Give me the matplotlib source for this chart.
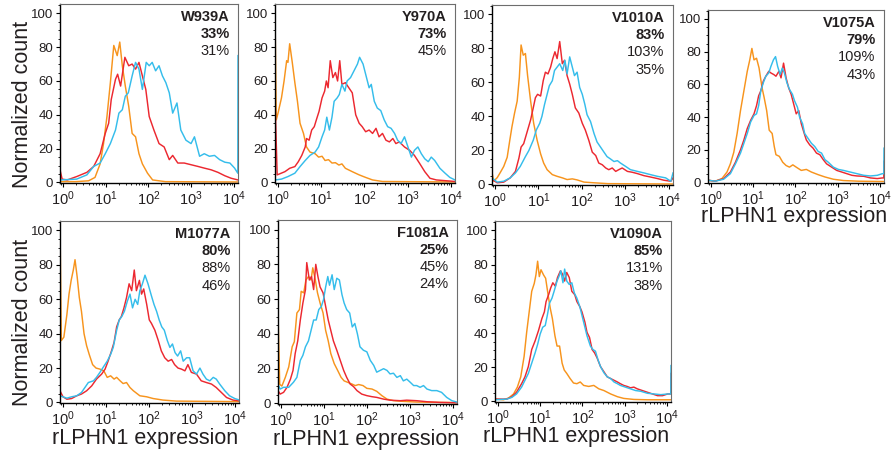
import matplotlib
matplotlib.use("Agg")
import matplotlib.pyplot as plt
from matplotlib.ticker import MultipleLocator, LogLocator, NullFormatter
import numpy as np

plt.rcParams['font.family'] = ['Liberation Sans', 'DejaVu Sans']
plt.rcParams['mathtext.fontset'] = 'custom'
plt.rcParams['mathtext.rm'] = 'Liberation Sans'
plt.rcParams['mathtext.it'] = 'Liberation Sans:italic'
plt.rcParams['mathtext.bf'] = 'Liberation Sans:bold'

# (log10 expression, normalized count)

W939A_ORANGE = [(-0.07, 0.5), (0.3, 0.5), (0.6, 1), (0.75, 3), (0.87, 11), (0.95, 23), (1.03, 39),
                (1.11, 59), (1.19, 81), (1.27, 75), (1.33, 83), (1.39, 69), (1.46, 57), (1.54, 45),
                (1.62, 29), (1.7, 27), (1.78, 17), (1.86, 11), (1.98, 5.5), (2.1, 1.5), (2.4, 0.5),
                (4.1, 0.3)]
W939A_RED = [(-0.07, 7.5), (-0.02, 2), (0.1, 1.5), (0.32, 3.5), (0.56, 6), (0.72, 9.5), (0.87, 17),
             (0.99, 29), (1.07, 35), (1.13, 49), (1.23, 61), (1.28, 64), (1.35, 57), (1.45, 74),
             (1.54, 69), (1.62, 70), (1.7, 67), (1.78, 71), (1.86, 63), (1.94, 55), (2.02, 39),
             (2.13, 31), (2.25, 23), (2.37, 21), (2.49, 13.5), (2.57, 16), (2.69, 11.5), (2.84, 11.5),
             (3.0, 10.5), (3.16, 9.5), (3.31, 8.5), (3.47, 7.5), (3.63, 6), (3.79, 4), (3.94, 2.5),
             (4.1, 1.5)]
W939A_BLUE = [(-0.07, 1.5), (0.32, 2), (0.56, 4.5), (0.72, 9.5), (0.87, 11.5), (0.99, 17), (1.11, 23),
              (1.23, 31), (1.31, 41), (1.39, 43), (1.46, 51), (1.53, 53), (1.62, 63), (1.7, 71),
              (1.78, 67), (1.86, 55), (1.95, 71), (2.02, 69), (2.09, 71), (2.17, 66), (2.25, 69),
              (2.33, 63), (2.41, 59), (2.49, 53), (2.57, 41), (2.67, 47), (2.76, 31), (2.88, 25),
              (3.0, 23), (3.08, 27), (3.2, 15.5), (3.31, 17), (3.43, 15.5), (3.55, 16), (3.67, 13.5),
              (3.79, 12), (3.91, 11.5), (4.02, 8.5), (4.095, 5.5), (4.1, 75)]

Y970A_ORANGE = [(-0.07, 100), (-0.04, 37), (0, 41), (0.08, 50), (0.14, 60), (0.2, 72), (0.23, 71),
                (0.27, 82), (0.33, 71), (0.39, 59), (0.45, 48), (0.51, 35), (0.59, 29), (0.66, 21),
                (0.74, 18), (0.86, 17), (0.94, 15), (1.02, 15.5), (1.09, 13), (1.17, 13.5), (1.25, 11.5),
                (1.33, 11.7), (1.41, 10.3), (1.48, 11), (1.56, 8.4), (1.72, 6.4), (1.88, 4.5), (2.03, 3),
                (2.19, 1.5), (2.42, 0.6), (4.1, 0.3)]
Y970A_RED = [(-0.07, 50), (-0.02, 4.5), (0.16, 6.4), (0.27, 8.4), (0.39, 9.4), (0.47, 12.3), (0.55, 16),
             (0.63, 21), (0.66, 26), (0.72, 25), (0.78, 31), (0.84, 33), (0.9, 38), (0.95, 42),
             (1.02, 50), (1.08, 54), (1.12, 60), (1.16, 56), (1.21, 72), (1.27, 62), (1.33, 65),
             (1.38, 60), (1.43, 72), (1.48, 58), (1.56, 59), (1.64, 56), (1.72, 53), (1.8, 40),
             (1.88, 35), (1.95, 33), (2.03, 30), (2.11, 31), (2.19, 29), (2.27, 32), (2.34, 27),
             (2.42, 29), (2.5, 25), (2.58, 24), (2.66, 26), (2.73, 23), (2.81, 24), (2.93, 21),
             (3.05, 19), (3.16, 16), (3.28, 11.3), (3.4, 6.4), (3.52, 2.5), (3.67, 1.5), (3.91, 1),
             (4.1, 0.6)]
Y970A_BLUE = [(-0.07, 1.5), (0.08, 2), (0.23, 3.5), (0.39, 5.5), (0.51, 9.4), (0.63, 13), (0.74, 16),
              (0.86, 18), (0.94, 21), (1.02, 27), (1.08, 31), (1.13, 38.6), (1.19, 31), (1.25, 38.6),
              (1.3, 48), (1.37, 50), (1.42, 52), (1.48, 58), (1.55, 54), (1.6, 60), (1.68, 62),
              (1.76, 66), (1.84, 70), (1.89, 74), (1.97, 70), (2.03, 64), (2.11, 56), (2.16, 58),
              (2.23, 48), (2.3, 44), (2.38, 42.5), (2.46, 37), (2.54, 33), (2.62, 32), (2.7, 29),
              (2.77, 25), (2.85, 23), (2.93, 27), (3.01, 21), (3.09, 15), (3.16, 19), (3.24, 21),
              (3.32, 17), (3.4, 14), (3.48, 12.3), (3.55, 15), (3.63, 13), (3.75, 8.4), (3.87, 5.5),
              (3.98, 3), (4.1, 1.5)]

V1010A_ORANGE = [(-0.07, 7), (-0.03, 2), (0.05, 4), (0.12, 7), (0.2, 10.6), (0.28, 16), (0.34, 26),
                 (0.39, 34), (0.45, 42), (0.51, 49), (0.56, 63), (0.6, 82), (0.65, 76), (0.7, 77),
                 (0.75, 64), (0.82, 49), (0.89, 36), (0.97, 26), (1.05, 18), (1.12, 12.6), (1.2, 8.7),
                 (1.32, 5.8), (1.43, 4.8), (1.55, 3.9), (1.66, 2.9), (1.78, 3.3), (1.89, 2.7),
                 (2.05, 1.4), (2.28, 1), (2.6, 0.5), (4.1, 0.3)]
V1010A_RED = [(-0.07, 2.9), (0.05, 1), (0.2, 1.4), (0.35, 3.9), (0.47, 7.7), (0.55, 15.5), (0.6, 22),
              (0.66, 24), (0.74, 31), (0.82, 38), (0.88, 45), (0.93, 51), (0.98, 53), (1.05, 52),
              (1.11, 61), (1.16, 66), (1.22, 65), (1.28, 69), (1.33, 74), (1.38, 78), (1.43, 74),
              (1.49, 84), (1.55, 71), (1.6, 73), (1.66, 64), (1.72, 59), (1.78, 53), (1.85, 45),
              (1.93, 42), (2.01, 36), (2.08, 32), (2.16, 26), (2.24, 19), (2.32, 17), (2.39, 12.6),
              (2.47, 11.6), (2.55, 9.7), (2.62, 8.7), (2.7, 9.7), (2.78, 7.7), (2.85, 8.7), (2.93, 9.7),
              (3.05, 7.7), (3.16, 7.2), (3.28, 6.4), (3.43, 5.2), (3.58, 4.4), (3.74, 3.5), (3.89, 2.5),
              (4.05, 1.9), (4.1, 3.9)]
V1010A_BLUE = [(-0.07, 3.9), (0.05, 1.4), (0.2, 1.9), (0.35, 3.9), (0.47, 6.8), (0.58, 10.6), (0.7, 16.4),
               (0.78, 20), (0.88, 26), (0.95, 32), (1.03, 36), (1.08, 40), (1.14, 47), (1.2, 53),
               (1.25, 58), (1.32, 61), (1.37, 67), (1.43, 69), (1.49, 71), (1.56, 67), (1.61, 73),
               (1.66, 65), (1.72, 75), (1.78, 69), (1.83, 64), (1.89, 66), (1.95, 57), (2.01, 53),
               (2.07, 47), (2.12, 41), (2.2, 37), (2.28, 30), (2.35, 25), (2.43, 22), (2.51, 19),
               (2.58, 16.4), (2.66, 15), (2.74, 13.5), (2.82, 14), (2.89, 12.6), (3.01, 10.6),
               (3.12, 8.7), (3.28, 7.7), (3.43, 6.8), (3.58, 5.8), (3.74, 4.8), (3.93, 3.9), (4.05, 1.9),
               (4.1, 6.8)]

V1075A_ORANGE = [(-0.07, 1.4), (0.1, 0.8), (0.26, 2.4), (0.38, 6.4), (0.46, 11.4), (0.54, 18.4), (0.62, 30),
                 (0.7, 44), (0.78, 56), (0.86, 68), (0.92, 75), (0.97, 82), (1.02, 75), (1.08, 76),
                 (1.14, 70), (1.21, 58), (1.26, 52), (1.32, 44), (1.38, 32), (1.45, 30), (1.5, 22),
                 (1.54, 17), (1.62, 16), (1.7, 12.4), (1.78, 10.4), (1.86, 9.4), (1.94, 10.8), (2.02, 9.4),
                 (2.14, 7.4), (2.26, 8), (2.38, 6.4), (2.54, 4.8), (2.7, 3.4), (2.9, 2), (3.14, 1.2),
                 (3.5, 0.8), (4.1, 0.6)]
V1075A_RED = [(-0.07, 1.4), (0.1, 0.8), (0.3, 2.4), (0.46, 6.4), (0.58, 12.4), (0.7, 20), (0.78, 26),
              (0.86, 33), (0.94, 38), (1.02, 42), (1.08, 47), (1.13, 53), (1.18, 56), (1.24, 62),
              (1.3, 65), (1.37, 68), (1.42, 67), (1.49, 66), (1.54, 65), (1.61, 68), (1.66, 64),
              (1.72, 73), (1.78, 64), (1.84, 58), (1.9, 54), (1.96, 48), (2.02, 42), (2.08, 44),
              (2.14, 36), (2.21, 30), (2.26, 26), (2.34, 23), (2.42, 21), (2.5, 18), (2.58, 17),
              (2.66, 14), (2.74, 11.4), (2.86, 9.4), (2.98, 7.4), (3.1, 6.4), (3.22, 5.4), (3.34, 4.4),
              (3.46, 4), (3.62, 3.8), (3.78, 2.8), (3.94, 2.4), (4.06, 2.8), (4.095, 2.8), (4.1, 13)]
V1075A_BLUE = [(-0.07, 1.4), (0.1, 0.8), (0.3, 2), (0.46, 5.4), (0.58, 11.4), (0.7, 18), (0.78, 24),
               (0.86, 30), (0.94, 37), (1.02, 41), (1.08, 42), (1.13, 47), (1.18, 56), (1.24, 61),
               (1.3, 65), (1.37, 67), (1.42, 71), (1.48, 75), (1.53, 77), (1.58, 71), (1.64, 66),
               (1.69, 70), (1.74, 67), (1.8, 61), (1.86, 57), (1.93, 54), (1.98, 50), (2.05, 46),
               (2.1, 40), (2.17, 36), (2.22, 30), (2.3, 27), (2.38, 24), (2.46, 22), (2.54, 19),
               (2.62, 18), (2.7, 14), (2.78, 12.4), (2.9, 9.4), (3.02, 8), (3.14, 7.4), (3.3, 6.4),
               (3.46, 5.4), (3.62, 4.4), (3.78, 4), (3.94, 4.4), (4.06, 5.4), (4.095, 5.4), (4.1, 21)]

M1077A_ORANGE = [(-0.07, 104), (-0.04, 36), (0.02, 38), (0.09, 51), (0.14, 63), (0.19, 71), (0.24, 77),
                 (0.28, 83), (0.33, 73), (0.38, 61), (0.43, 53), (0.49, 40), (0.55, 33), (0.61, 28),
                 (0.69, 22), (0.77, 20), (0.86, 19.4), (0.95, 18.4), (1.03, 14.6), (1.11, 15.5),
                 (1.19, 13.6), (1.25, 14.6), (1.33, 12.6), (1.4, 11), (1.48, 11.6), (1.56, 8.7),
                 (1.64, 6.8), (1.79, 3.9), (1.95, 3.3), (2.1, 2.3), (2.33, 1.4), (2.64, 0.8), (4.1, 0.5)]
M1077A_RED = [(-0.07, 6.8), (0.0, 3.3), (0.09, 1.9), (0.2, 2.3), (0.32, 3.9), (0.43, 4.9), (0.55, 6.8),
              (0.67, 9.7), (0.78, 13.6), (0.9, 16.5), (0.98, 19.4), (1.05, 24), (1.13, 30), (1.19, 35),
              (1.25, 44), (1.31, 48), (1.36, 50), (1.42, 55), (1.48, 61), (1.54, 69), (1.6, 65),
              (1.66, 77), (1.71, 65), (1.78, 71), (1.83, 63), (1.88, 66), (1.95, 57), (2.01, 48),
              (2.06, 46), (2.14, 42), (2.22, 36), (2.29, 30), (2.37, 26), (2.45, 24), (2.53, 25),
              (2.6, 22), (2.68, 20), (2.76, 19.4), (2.84, 18.4), (2.91, 22), (2.99, 17.5), (3.11, 16.5),
              (3.22, 12.6), (3.34, 11.6), (3.46, 10.7), (3.57, 8.7), (3.69, 5.8), (3.81, 2.9),
              (3.96, 1.4), (4.1, 1)]
M1077A_BLUE = [(-0.07, 3.9), (0.09, 2.5), (0.2, 3.3), (0.32, 3.9), (0.43, 5.8), (0.51, 8.7), (0.59, 11.6),
               (0.71, 12.6), (0.78, 14.6), (0.86, 17.5), (0.95, 21), (1.03, 24), (1.11, 28), (1.17, 32),
               (1.25, 42), (1.31, 48), (1.37, 50), (1.43, 53), (1.5, 59), (1.56, 63), (1.62, 55),
               (1.68, 60), (1.74, 57), (1.79, 65), (1.85, 69), (1.91, 74), (1.98, 69), (2.06, 62),
               (2.12, 57), (2.18, 53), (2.24, 48), (2.3, 44), (2.36, 42), (2.43, 36), (2.49, 32),
               (2.55, 34), (2.61, 29), (2.67, 27), (2.74, 30), (2.8, 24), (2.88, 26), (2.95, 26),
               (3.03, 18.4), (3.11, 16.5), (3.19, 20), (3.26, 16.5), (3.34, 13.6), (3.42, 12.6),
               (3.5, 14.6), (3.57, 13.6), (3.65, 10.7), (3.77, 6.8), (3.88, 3.9), (4.0, 2.3), (4.1, 1.5)]

F1081A_ORANGE = [(-0.07, 52), (-0.03, 11), (0.02, 10), (0.1, 15), (0.18, 21), (0.26, 32.6), (0.31, 35.5),
                 (0.37, 52), (0.43, 54), (0.47, 64.5), (0.53, 63.6), (0.58, 71), (0.64, 73), (0.7, 71),
                 (0.74, 78), (0.8, 71), (0.85, 63.6), (0.91, 57.8), (0.98, 52), (1.04, 42), (1.1, 36),
                 (1.16, 28.7), (1.24, 22.9), (1.32, 19), (1.4, 15), (1.47, 13), (1.55, 12.2), (1.65, 11.2),
                 (1.73, 10.3), (1.81, 10.9), (1.91, 10.3), (2.0, 8.7), (2.12, 8.3), (2.23, 7), (2.35, 4.5),
                 (2.47, 2.5), (2.62, 1.6), (2.85, 1.2), (3.16, 0.8), (4.1, 0.5)]
F1081A_RED = [(-0.07, 7.4), (-0.02, 5.4), (0.06, 6.4), (0.14, 9.3), (0.22, 14), (0.28, 19), (0.33, 28.7),
              (0.39, 36), (0.45, 48), (0.51, 57.8), (0.57, 65.5), (0.6, 81), (0.66, 71), (0.71, 73),
              (0.76, 65.5), (0.81, 80), (0.86, 73), (0.91, 67), (0.98, 63.6), (1.04, 55.8), (1.1, 48),
              (1.16, 42), (1.22, 36), (1.3, 30.6), (1.38, 24.8), (1.46, 19), (1.53, 15), (1.61, 11.2),
              (1.69, 9.7), (1.77, 7.4), (1.88, 5.4), (2.0, 4.5), (2.12, 3.9), (2.23, 3.5), (2.39, 2.5),
              (2.54, 1.9), (2.78, 1.6), (2.93, 1.9), (3.16, 1.6), (3.4, 1), (3.71, 0.6), (4.1, 0.4)]
F1081A_BLUE = [(-0.07, 11), (-0.02, 8.3), (0.06, 9.3), (0.18, 9.3), (0.29, 12.2), (0.37, 15), (0.45, 24.8),
               (0.51, 27.7), (0.57, 32.6), (0.64, 36), (0.7, 42), (0.76, 48), (0.82, 48), (0.88, 54),
               (0.94, 55.8), (0.99, 59.7), (1.04, 67), (1.09, 73), (1.13, 68), (1.19, 74), (1.24, 65.5),
               (1.3, 72), (1.36, 71), (1.42, 62.6), (1.47, 57.8), (1.53, 54), (1.6, 52), (1.66, 44),
               (1.72, 46), (1.78, 40), (1.84, 32.6), (1.92, 30.6), (2.0, 29.7), (2.08, 24.8), (2.16, 21.9),
               (2.23, 18), (2.31, 19), (2.39, 20), (2.47, 19), (2.54, 17), (2.62, 17.4), (2.7, 15),
               (2.78, 16), (2.85, 13), (2.93, 14), (3.01, 12.2), (3.09, 10.3), (3.16, 10.3), (3.24, 9.3),
               (3.32, 10.3), (3.4, 8.3), (3.51, 7.4), (3.63, 7.4), (3.74, 6.4), (3.86, 3.5), (3.98, 1.6),
               (4.1, 0.8)]

V1090A_ORANGE = [(-0.07, 1.4), (0.13, 1), (0.25, 2), (0.37, 4.4), (0.46, 8.4), (0.54, 14.4), (0.62, 26.4),
                 (0.68, 40.4), (0.75, 54.4), (0.8, 64.4), (0.86, 69), (0.9, 74), (0.94, 82), (0.98, 73),
                 (1.02, 77), (1.08, 74), (1.13, 72), (1.19, 62), (1.24, 54.4), (1.29, 48.4), (1.35, 38.4),
                 (1.4, 32.4), (1.46, 32.4), (1.52, 22.4), (1.57, 18.4), (1.63, 16.4), (1.71, 13.4),
                 (1.79, 10.8), (1.87, 10.4), (1.95, 11.4), (2.03, 9.4), (2.15, 8.8), (2.27, 9.4),
                 (2.39, 7.4), (2.51, 6.4), (2.67, 4.4), (2.83, 2.8), (2.98, 1.8), (3.22, 1.2), (3.54, 1),
                 (4.1, 1)]
V1090A_RED = [(-0.07, 1.4), (0.21, 1.4), (0.33, 2.8), (0.44, 5.4), (0.56, 10.4), (0.64, 14.4), (0.72, 20.4),
              (0.8, 30.4), (0.88, 35.4), (0.96, 41.4), (1.04, 48.4), (1.1, 52.4), (1.14, 58.4),
              (1.2, 62.4), (1.25, 66.4), (1.3, 69.4), (1.36, 67.4), (1.41, 72.4), (1.48, 76.4),
              (1.53, 74.4), (1.58, 70.4), (1.63, 75.4), (1.69, 72.4), (1.75, 64.4), (1.82, 62.4),
              (1.87, 58.4), (1.94, 55.4), (1.99, 52.4), (2.06, 46.4), (2.11, 40.4), (2.17, 37.4),
              (2.23, 30.4), (2.29, 28.4), (2.35, 25.4), (2.43, 20.4), (2.51, 17.4), (2.59, 14.4),
              (2.67, 13.4), (2.75, 12.4), (2.83, 11.4), (2.9, 10.4), (2.98, 9.4), (3.06, 8.8), (3.14, 8),
              (3.22, 8.4), (3.3, 7.4), (3.42, 6.4), (3.54, 5.4), (3.66, 4.4), (3.78, 3.4), (3.9, 3.4),
              (4.02, 4.4), (4.095, 4.4), (4.1, 16.4)]
V1090A_BLUE = [(-0.07, 1), (0.21, 1.4), (0.33, 2.4), (0.44, 4.4), (0.56, 8.4), (0.64, 12.4), (0.72, 16.4),
               (0.8, 22.4), (0.88, 28.4), (0.94, 33.4), (1.0, 39.4), (1.06, 43.4), (1.12, 44.4),
               (1.17, 50.4), (1.22, 57.4), (1.28, 60.4), (1.33, 64.4), (1.4, 70.4), (1.45, 73.4),
               (1.49, 76.4), (1.54, 69.4), (1.58, 77.4), (1.63, 70.4), (1.69, 68.4), (1.75, 69.4),
               (1.81, 63.4), (1.87, 60.4), (1.94, 55.4), (1.99, 50.4), (2.05, 44.4), (2.11, 38.4),
               (2.19, 32.4), (2.25, 30.4), (2.31, 29.4), (2.37, 24.4), (2.43, 20.4), (2.51, 16.8),
               (2.59, 14.4), (2.67, 13.4), (2.75, 11.4), (2.83, 10.4), (2.9, 9.4), (3.02, 8.4),
               (3.14, 7.4), (3.26, 6.4), (3.38, 6), (3.54, 4.8), (3.7, 4.4), (3.86, 4), (4.02, 4.4),
               (4.095, 4.4), (4.1, 21)]

names = ["W939A", "Y970A", "V1010A", "V1075A", "M1077A", "F1081A", "V1090A"]
pct_bold = ["33%", "73%", "83%", "79%", "80%", "25%", "85%"]
pct_rest = [["31%"], ["45%"], ["103%", "35%"], ["109%", "43%"],
            ["88%", "46%"], ["45%", "24%"], ["131%", "38%"]]

curves = [
    (W939A_ORANGE, W939A_RED, W939A_BLUE),
    (Y970A_ORANGE, Y970A_RED, Y970A_BLUE),
    (V1010A_ORANGE, V1010A_RED, V1010A_BLUE),
    (V1075A_ORANGE, V1075A_RED, V1075A_BLUE),
    (M1077A_ORANGE, M1077A_RED, M1077A_BLUE),
    (F1081A_ORANGE, F1081A_RED, F1081A_BLUE),
    (V1090A_ORANGE, V1090A_RED, V1090A_BLUE),
]
colors = ["#F7941D", "#EC2830", "#35BDEB"]

W, H = 892, 450
# axes boxes in pixels: left, top, right, bottom
boxes = [(60, 4, 238, 183), (275, 4, 455, 183), (492, 5, 673, 185), (708, 10, 884, 183),
         (60, 221, 239, 403), (278, 220, 457, 404), (495, 221, 671, 402)]
xlabel_x = {3: 0.49, 4: 0.475, 5: 0.49, 6: 0.46}

fig = plt.figure(figsize=(W / 100, H / 100), dpi=100)

for i, name in enumerate(names):
    l, t, r, b = boxes[i]
    ax = fig.add_axes([l / W, 1 - b / H, (r - l) / W, (b - t) / H])

    for curve, col in zip(curves[i], colors):
        arr = np.array(curve)
        ax.plot(10 ** arr[:, 0], arr[:, 1], color=col, lw=1.05)

    ax.set_xscale('log')
    ax.set_xlim(10 ** -0.07, 10 ** 4.1)
    ax.set_ylim(-0.3, 105.5)
    ax.set_xticks([1, 10, 100, 1000, 10000])
    ax.xaxis.set_minor_locator(LogLocator(base=10, subs=np.arange(2, 10), numticks=20))
    ax.xaxis.set_minor_formatter(NullFormatter())
    ax.set_yticks([0, 20, 40, 60, 80, 100])
    ax.yaxis.set_minor_locator(MultipleLocator(5))

    for side in ['left', 'bottom']:
        ax.spines[side].set_linewidth(1.0)
        ax.spines[side].set_color('black')
    for side in ['top', 'right']:
        ax.spines[side].set_linewidth(0.8)
        ax.spines[side].set_color('#6d6d6d')

    ax.tick_params(which='major', direction='out', length=3, width=0.8,
                   colors='black', labelcolor='#231f20')
    ax.tick_params(which='minor', direction='out', length=1.6, width=0.6)
    ax.tick_params(axis='x', pad=1.5, labelsize=10.5)
    ax.tick_params(axis='y', pad=2, labelsize=9.5)

    # sample name and percentages, top right
    lines = [(name, 'bold'), (pct_bold[i], 'bold')] + [(p, 'normal') for p in pct_rest[i]]
    for j, (s, w) in enumerate(lines):
        ax.annotate(s, xy=(1, 1), xycoords='axes fraction',
                    xytext=(-6, -4.5 - 12.3 * j), textcoords='offset points',
                    ha='right', va='top', fontsize=10.5, fontweight=w, color='#231f20')

    if i in (0, 4):
        ax.set_ylabel("Normalized count", fontsize=15.5, color='#231f20')
        ax.yaxis.set_label_coords(-0.15, 0.44)
    if i in xlabel_x:
        ax.set_xlabel("rLPHN1 expression", fontsize=15.5, color='#231f20')
        ax.xaxis.set_label_coords(xlabel_x[i], -0.135)

fig.savefig("out.png", dpi=100)
